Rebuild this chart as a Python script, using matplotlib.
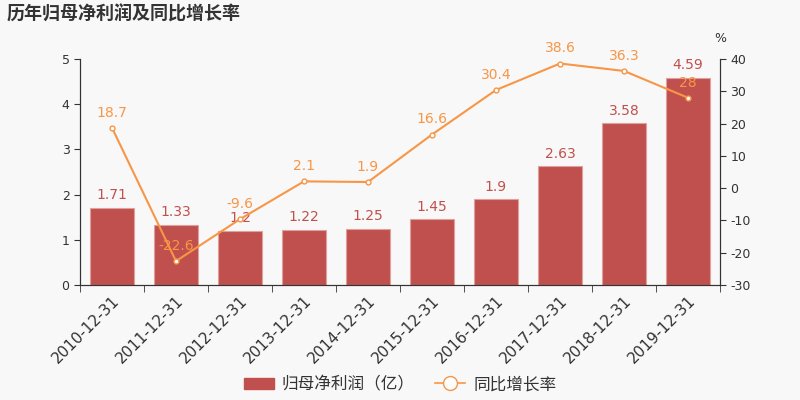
import numpy as np
import matplotlib
matplotlib.use("Agg")
from matplotlib import pyplot as plt
from matplotlib.lines import Line2D
from matplotlib.patches import Patch

plt.rcParams['font.family'] = ['DejaVu Sans', 'Noto Sans CJK SC']
plt.rcParams['axes.unicode_minus'] = False

dates = ["2010-12-31", "2011-12-31", "2012-12-31", "2013-12-31", "2014-12-31",
         "2015-12-31", "2016-12-31", "2017-12-31", "2018-12-31", "2019-12-31"]
profit = [1.71, 1.33, 1.2, 1.22, 1.25, 1.45, 1.9, 2.63, 3.58, 4.59]
growth = [18.7, -22.6, -9.6, 2.1, 1.9, 16.6, 30.4, 38.6, 36.3, 28]
profit_labels = ["1.71", "1.33", "1.2", "1.22", "1.25", "1.45", "1.9", "2.63", "3.58", "4.59"]
growth_labels = ["18.7", "-22.6", "-9.6", "2.1", "1.9", "16.6", "30.4", "38.6", "36.3", "28"]

BG = "#f8f8f8"
RED = "#c0504d"
ORANGE = "#f79646"
AXIS = "#333333"

fig = plt.figure(figsize=(8, 4), dpi=100, facecolor=BG)
ax = fig.add_axes([0.1, 0.2875, 0.8, 0.565])
ax.set_facecolor(BG)
ax2 = ax.twinx()

x = np.arange(len(dates))
ax.bar(x, profit, width=0.7, color=RED, edgecolor="#e0a09e", linewidth=0.8, zorder=2)
for xi, v, t in zip(x, profit, profit_labels):
    ax.text(xi, v + 0.12, t, ha="center", va="bottom", color=RED, fontsize=10)

ax.set_xlim(-0.5, len(dates) - 0.5)
ax.set_ylim(0, 5)
ax.set_yticks(range(0, 6))
ax.set_xticks(x)
ax.set_xticklabels(dates, rotation=45, ha="right", rotation_mode="anchor", fontsize=11, color=AXIS)
ax.tick_params(axis="x", length=0, pad=6)
ax.set_xticks(np.arange(len(dates) + 1) - 0.5, minor=True)
ax.tick_params(axis="x", which="minor", length=5, color=AXIS)
ax.tick_params(axis="y", labelsize=9, colors=AXIS, length=4)

ax2.plot(x, growth, color=ORANGE, linewidth=1.5, marker="o", markersize=3.5,
         markerfacecolor="white", markeredgecolor=ORANGE, markeredgewidth=1, zorder=3)
for xi, v, t in zip(x, growth, growth_labels):
    ax2.text(xi, v + 2.5, t, ha="center", va="bottom", color=ORANGE, fontsize=10)
ax2.set_ylim(-30, 40)
ax2.set_yticks(range(-30, 41, 10))
ax2.tick_params(axis="y", labelsize=9, colors=AXIS, length=4)
ax2.text(1.0, 1.06, "%", transform=ax2.transAxes, ha="center", va="bottom", fontsize=9, color=AXIS)

for a in (ax, ax2):
    a.spines['top'].set_visible(False)
    for s in ('left', 'right', 'bottom'):
        a.spines[s].set_color(AXIS)

fig.text(0.008, 0.965, "历年归母净利润及同比增长率", fontsize=13, fontweight="bold",
         color="#333333", ha="left", va="center", family=['Noto Sans CJK SC', 'DejaVu Sans'])

handles = [Patch(facecolor=RED, edgecolor=RED, label="归母净利润（亿）"),
           Line2D([0], [0], color=ORANGE, marker="o", markersize=10, markerfacecolor="white",
                  markeredgecolor=ORANGE, linewidth=1.2, label="同比增长率")]
fig.legend(handles=handles, loc="center", bbox_to_anchor=(0.5, 0.038), ncol=2, frameon=False,
           handlelength=1.8, columnspacing=1.2, handletextpad=0.5, labelcolor="#333333",
           prop={'family': ['Noto Sans CJK SC', 'DejaVu Sans'], 'size': 12})

fig.savefig("out.png", dpi=100, facecolor=BG)
